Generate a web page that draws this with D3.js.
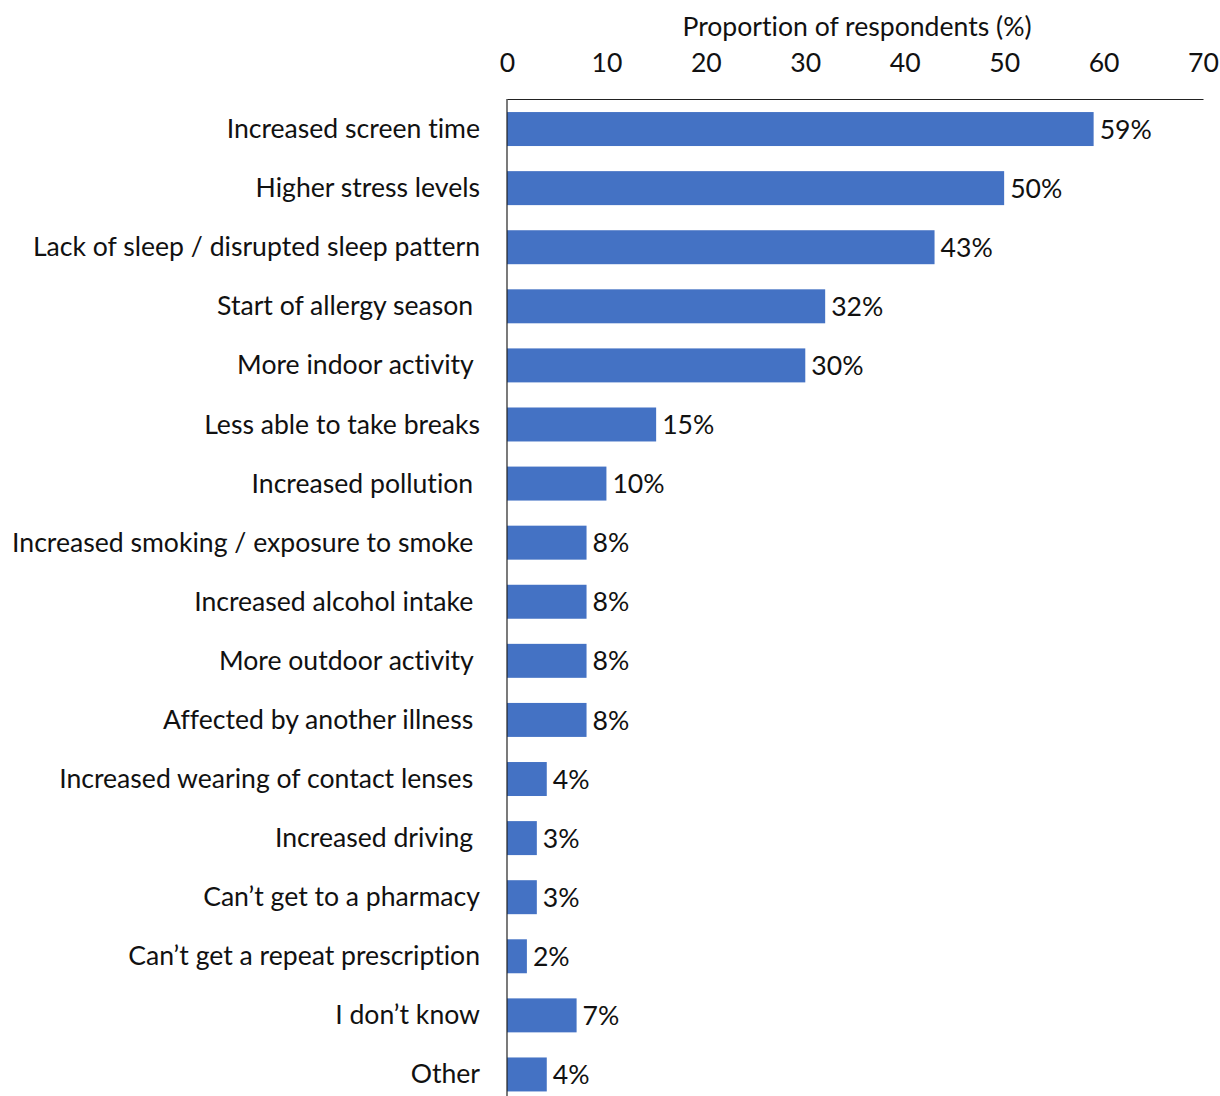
<!DOCTYPE html>
<html><head><meta charset="utf-8">
<script src="https://cdn.jsdelivr.net/npm/d3@7"></script>
<style>
html,body{margin:0;padding:0;background:#fff;}
text{font-family:Lato,"Open Sans",sans-serif;fill:#111;font-variant-ligatures:none;}
</style></head>
<body>
<svg id="chart" width="1220" height="1096"></svg>
<script>
const categories = [
  "Increased screen time",
  "Higher stress levels",
  "Lack of sleep / disrupted sleep pattern",
  "Start of allergy season ",
  "More indoor activity ",
  "Less able to take breaks",
  "Increased pollution ",
  "Increased smoking / exposure to smoke ",
  "Increased alcohol intake ",
  "More outdoor activity ",
  "Affected by another illness ",
  "Increased wearing of contact lenses ",
  "Increased driving ",
  "Can\u2019t get to a pharmacy",
  "Can\u2019t get a repeat prescription",
  "I don\u2019t know",
  "Other"
];
const values = [59, 50, 43, 32, 30, 15, 10, 8, 8, 8, 8, 4, 3, 3, 2, 7, 4];
const xTicks = [0, 10, 20, 30, 40, 50, 60, 70];
const axisTitle = "Proportion of respondents (%)";

const svg = d3.select("#chart");
const mLeft = 507, mRight = 1203, mTop = 99.5, mBottom = 1104;
const fs = 26.6;

const x = d3.scaleLinear().domain([0, 70]).range([mLeft, mRight]);
const y = d3.scaleBand().domain(categories).range([mTop, mBottom]).paddingInner(0.425).paddingOuter(0.2125);

// bars
svg.append("g").selectAll("rect").data(categories).join("rect")
  .attr("x", x(0))
  .attr("y", d => y(d))
  .attr("width", (d, i) => x(values[i]) - x(0))
  .attr("height", y.bandwidth())
  .attr("fill", "#4472C4");

// value labels
svg.append("g").selectAll("text").data(categories).join("text")
  .attr("x", (d, i) => x(values[i]) + 6)
  .attr("y", d => y(d) + y.bandwidth() / 2)
  .attr("dy", "0.36em")
  .attr("font-size", fs)
  .text((d, i) => values[i] + "%");

// category labels
svg.append("g").selectAll("text").data(categories).join("text")
  .attr("x", 480)
  .attr("y", d => y(d) + y.bandwidth() / 2)
  .attr("dy", "0.34em")
  .attr("text-anchor", "end")
  .attr("font-size", fs)
  .style("white-space", "pre")
  .attr("xml:space", "preserve")
  .text(d => d);

// top axis
const ax = svg.append("g").attr("transform", `translate(0,${99})`)
  .call(d3.axisTop(x).tickValues(xTicks).tickSize(0).tickPadding(27).tickFormat(d3.format("d")));
ax.select(".domain").attr("stroke", "#222").attr("stroke-width", 1.2);
ax.selectAll("text").attr("font-size", fs).style("font-family", "Lato, 'Open Sans', sans-serif").attr("fill", "#111");

// vertical axis line
svg.append("line").attr("x1", mLeft).attr("x2", mLeft).attr("y1", 99).attr("y2", 1096)
  .attr("stroke", "#222").attr("stroke-width", 1.2);

// axis title
svg.append("text").attr("x", (mLeft + mRight) / 2 + 2).attr("y", 36)
  .attr("text-anchor", "middle").attr("font-size", fs).text(axisTitle);
</script>
</body></html>
